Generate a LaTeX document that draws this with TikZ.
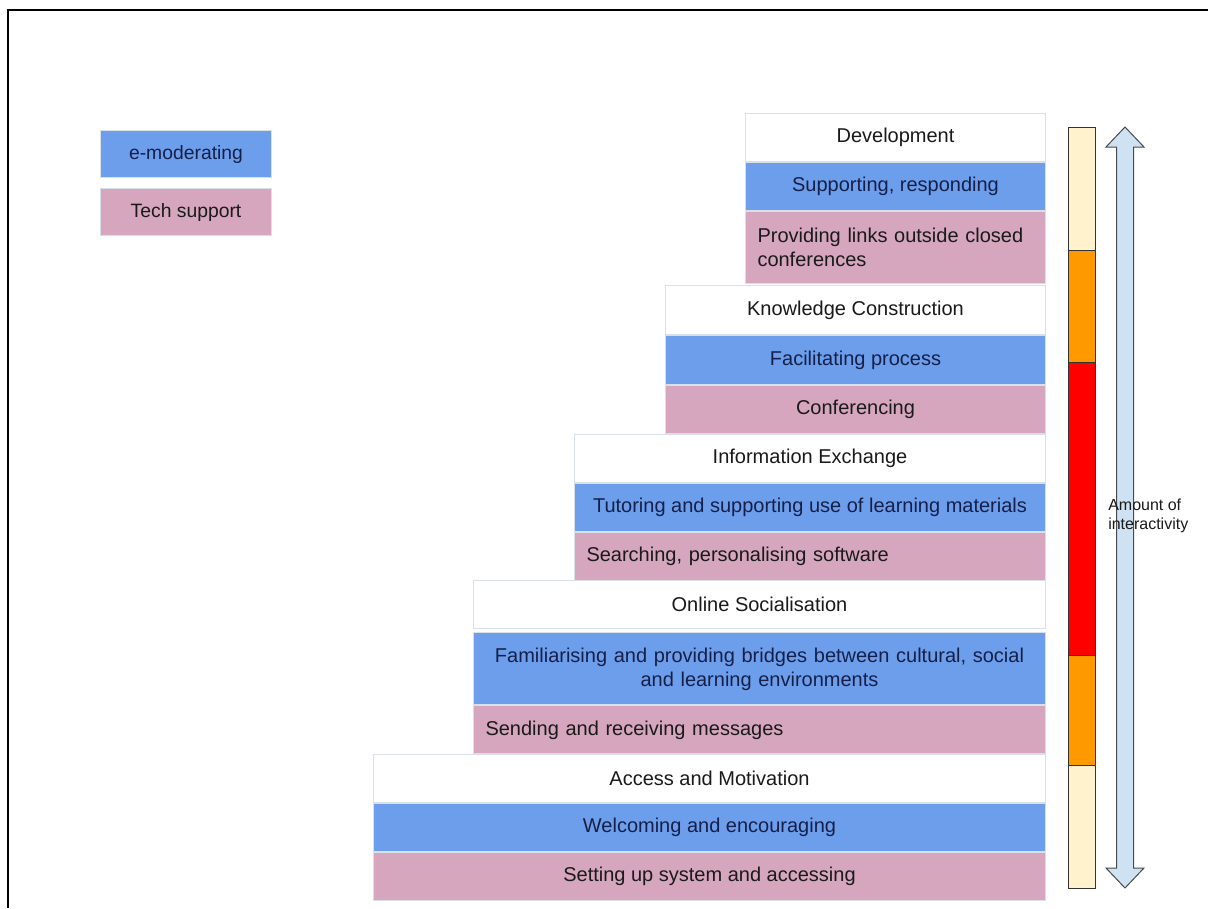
\documentclass[tikz,border=0pt]{standalone}
\usepackage{fontspec}
\setmainfont{Liberation Sans}
\usetikzlibrary{positioning}
\definecolor{emblue}{HTML}{6D9EEB}
\definecolor{techpink}{HTML}{D5A6BD}
\definecolor{edgegray}{HTML}{DAE0EA}
\definecolor{palecream}{HTML}{FFF2CC}
\definecolor{amber}{HTML}{FF9900}
\definecolor{arrowblue}{HTML}{CFE2F3}
\definecolor{arrowline}{HTML}{4A4A4A}
\definecolor{textdark}{HTML}{1A1A1A}
\definecolor{navytext}{HTML}{15204A}
\tikzset{
	box/.style={
		rectangle, inner sep=0pt, draw=edgegray, line width=0.75pt,
		font=\fontsize{15}{18}\selectfont, text=textdark
	},
	%
	wide/.style={minimum width=#1*0.75pt},
	tall/.style={minimum height=#1*0.75pt},
	%
	stage/.style={box, fill=white, tall=48},
	emod/.style={box, fill=emblue, tall=48, text=navytext},
	tech/.style={box, fill=techpink, tall=48},
	%
	lefttext/.style={align=left, text width=#1*0.75pt-18pt},
	centertext/.style={align=center, text width=#1*0.75pt-18pt},
	%
	segment/.style={draw=black!80, line width=0.75pt}
}
\begin{document}
\begin{tikzpicture}[x=0.75pt, y=-0.75pt]
    \useasboundingbox (0,0) rectangle (1208,908);
    \draw[line width=1.5pt] (8,908) -- (8,10) -- (1208,10);
    % legend
    \node(legMod)[emod, wide=171, tall=47, anchor=north west, font=\fontsize{14.5}{17}\selectfont] at (100,130){e-moderating};
    \node(legTech)[tech, wide=171, tall=47, below=7.5pt of legMod, font=\fontsize{14.5}{17}\selectfont]{Tech support};
    % steps, top to bottom
    \node(dev)[stage, wide=300, anchor=north east] at (1046,113){Development};
    \node(devMod)[emod, wide=300, below=0pt of dev]{Supporting, responding};
    \node(devTech)[tech, wide=300, tall=72, lefttext=300, below=0pt of devMod]{Providing links outside closed\\conferences};
    \node(know)[stage, wide=380, tall=49, anchor=north east] at (1046,285){Knowledge Construction};
    \node(knowMod)[emod, wide=380, tall=49, below=0pt of know]{Facilitating process};
    \node(knowTech)[tech, wide=380, below=0pt of knowMod]{Conferencing};
    \node(info)[stage, wide=471, anchor=north east] at (1046,434){Information Exchange};
    \node(infoMod)[emod, wide=471, below=0pt of info]{Tutoring and supporting use of learning materials};
    \node(infoTech)[tech, wide=471, lefttext=471, below=0pt of infoMod]{Searching, personalising software};
    \node(social)[stage, wide=572, anchor=north east] at (1046,580){Online Socialisation};
    \node(socialMod)[emod, wide=572, tall=72, centertext=572, below=2.5pt of social]{Familiarising and providing bridges between cultural, social\\and learning environments};
    \node(socialTech)[tech, wide=572, lefttext=572, below=0pt of socialMod]{Sending and receiving messages};
    \node(access)[stage, wide=672, anchor=north east] at (1046,754){Access and Motivation};
    \node(accessMod)[emod, wide=672, below=0pt of access]{Welcoming and encouraging};
    \node(accessTech)[tech, wide=672, below=0pt of accessMod]{Setting up system and accessing};
    % interactivity bar
    \draw[segment, fill=palecream] (1068,127) rectangle (1095,250);
    \draw[segment, fill=amber] (1068,250) rectangle (1095,362);
    \draw[segment, fill=red] (1068,362) rectangle (1095,655);
    \draw[segment, fill=amber] (1068,655) rectangle (1095,765);
    \draw[segment, fill=palecream] (1068,765) rectangle (1095,888);
    % double arrow
    \draw[fill=arrowblue, draw=arrowline, line width=0.75pt]
        (1125,127) -- (1144,147) -- (1133.5,147) -- (1133.5,868) -- (1144,868) -- (1125,888)
        -- (1106,868) -- (1116.5,868) -- (1116.5,147) -- (1106,147) -- cycle;
    \node(amount)[anchor=west, align=left, inner sep=0pt, text=textdark, font=\fontsize{12}{14.25}\selectfont] at (1108,516){Amount of\\interactivity};
\end{tikzpicture}
\end{document}
